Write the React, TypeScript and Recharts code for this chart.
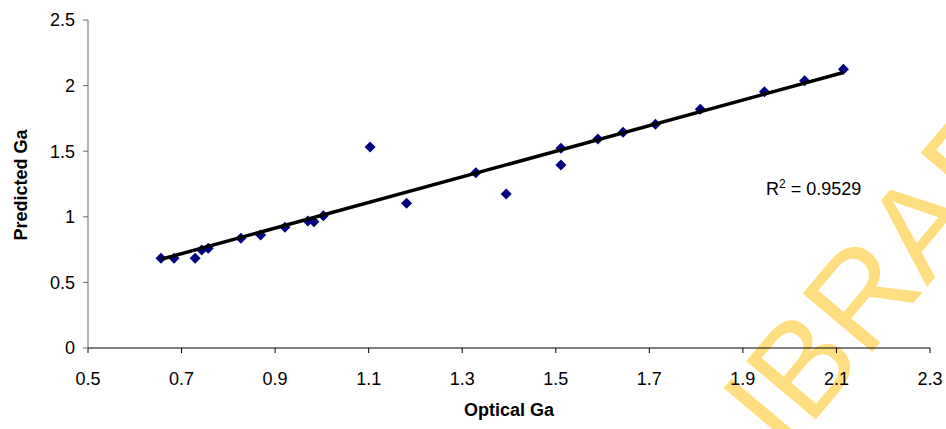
import React from "react";
import {
  ScatterChart,
  Scatter,
  XAxis,
  YAxis,
  ZAxis,
  Customized,
} from "recharts";

// optical vs predicted Ga
const opticalGa = [
  0.656, 0.684, 0.729, 0.743, 0.757, 0.827, 0.869, 0.921, 0.97, 0.983, 1.003,
  1.103, 1.181, 1.329, 1.394, 1.511, 1.511, 1.59, 1.644, 1.713, 1.809, 1.946,
  2.032, 2.115,
];
const predictedGa = [
  0.684, 0.684, 0.684, 0.747, 0.76, 0.836, 0.861, 0.92, 0.968, 0.963, 1.008,
  1.532, 1.103, 1.336, 1.174, 1.522, 1.395, 1.593, 1.644, 1.705, 1.819, 1.953,
  2.037, 2.124,
];

// linear trendline endpoints
const trendX = [0.656, 2.115];
const trendY = [0.676, 2.1];

const xTicks = [0.5, 0.7, 0.9, 1.1, 1.3, 1.5, 1.7, 1.9, 2.1, 2.3];
const yTicks = [0, 0.5, 1, 1.5, 2, 2.5];

const points = opticalGa.map((x, i) => ({ x, y: predictedGa[i] }));
const trend = trendX.map((x, i) => ({ x, y: trendY[i] }));

const FONT = "'Liberation Sans', Arial, sans-serif";

function Diamond(props: any) {
  const { cx, cy } = props;
  if (cx == null || cy == null) return null;
  const r = 5.5;
  return (
    <polygon
      points={`${cx},${cy - r} ${cx + r},${cy} ${cx},${cy + r} ${cx - r},${cy}`}
      fill="#000080"
    />
  );
}

function Overlay() {
  return (
    <g fontFamily={FONT}>
      <text x={509} y={416} textAnchor="middle" fontSize={18} fontWeight="bold" fill="#000">
        Optical Ga
      </text>
      <text
        x={0}
        y={0}
        transform="translate(27,185) rotate(-90)"
        textAnchor="middle"
        fontSize={18}
        fontWeight="bold"
        fill="#000"
      >
        Predicted Ga
      </text>
      <text x={766} y={195} fontSize={18} fill="#000">
        R<tspan dy={-7} fontSize={12}>2</tspan>
        <tspan dy={7}> = 0.9529</tspan>
      </text>
      <text
        x={0}
        y={0}
        transform="translate(738,512) rotate(-50)"
        fontSize={132}
        fill="#FFDE82"
        fontFamily={FONT}
      >
        LIBRARY
      </text>
    </g>
  );
}

export default function App() {
  return (
    <div style={{ width: 946, height: 429, background: "#fff" }}>
      <style>{`body{margin:0}`}</style>
      <ScatterChart
        width={946}
        height={429}
        margin={{ top: 20, right: 16, bottom: 0, left: 0 }}
      >
        <XAxis
          type="number"
          dataKey="x"
          domain={[0.5, 2.3]}
          ticks={xTicks}
          tickFormatter={(v: number) => v.toFixed(1)}
          stroke="#000"
          tickSize={5}
          tickMargin={19}
          height={81}
          tick={{ fill: "#000", fontSize: 18, fontFamily: FONT }}
          allowDataOverflow
        />
        <YAxis
          type="number"
          dataKey="y"
          domain={[0, 2.5]}
          ticks={yTicks}
          stroke="#666"
          tickSize={5}
          tickMargin={8}
          width={88}
          tick={{ fill: "#000", fontSize: 18, fontFamily: FONT }}
          allowDataOverflow
        />
        <ZAxis range={[60, 60]} />
        <Scatter data={points} shape={<Diamond />} isAnimationActive={false} />
        <Scatter
          data={trend}
          line={{ stroke: "#000", strokeWidth: 3.5 }}
          shape={() => null}
          isAnimationActive={false}
        />
        <Customized component={Overlay} />
      </ScatterChart>
    </div>
  );
}
